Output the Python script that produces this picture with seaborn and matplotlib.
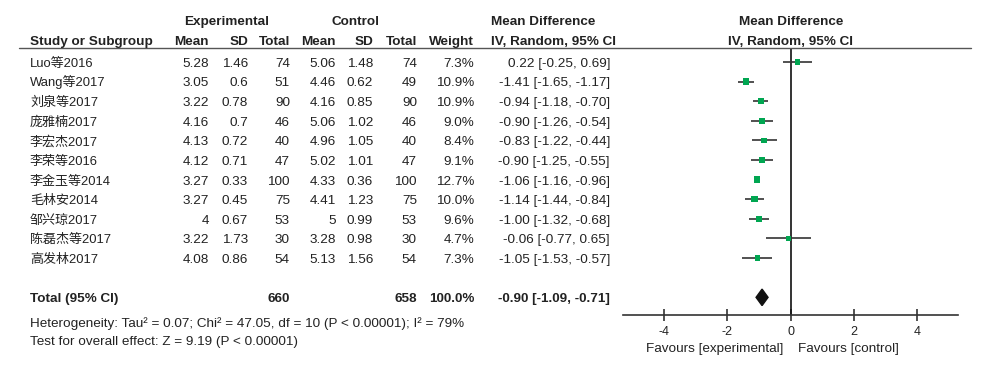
import matplotlib
matplotlib.use("Agg")
import matplotlib.pyplot as plt
import matplotlib.transforms as mtransforms
import numpy as np
import pandas as pd
import seaborn as sns

studies = ["Luo等2016", "Wang等2017", "刘泉等2017", "庞雅楠2017", "李宏杰2017", "李荣等2016",
           "李金玉等2014", "毛林安2014", "邹兴琼2017", "陈磊杰等2017", "高发林2017"]
exp_mean = [5.28, 3.05, 3.22, 4.16, 4.13, 4.12, 3.27, 3.27, 4, 3.22, 4.08]
exp_sd = [1.46, 0.6, 0.78, 0.7, 0.72, 0.71, 0.33, 0.45, 0.67, 1.73, 0.86]
exp_n = [74, 51, 90, 46, 40, 47, 100, 75, 53, 30, 54]
ctl_mean = [5.06, 4.46, 4.16, 5.06, 4.96, 5.02, 4.33, 4.41, 5, 3.28, 5.13]
ctl_sd = [1.48, 0.62, 0.85, 1.02, 1.05, 1.01, 0.36, 1.23, 0.99, 0.98, 1.56]
ctl_n = [74, 49, 90, 46, 40, 47, 100, 75, 53, 30, 54]
weight = [7.3, 10.9, 10.9, 9.0, 8.4, 9.1, 12.7, 10.0, 9.6, 4.7, 7.3]
md = [0.22, -1.41, -0.94, -0.90, -0.83, -0.90, -1.06, -1.14, -1.00, -0.06, -1.05]
ci_lo = [-0.25, -1.65, -1.18, -1.26, -1.22, -1.25, -1.16, -1.44, -1.32, -0.77, -1.53]
ci_hi = [0.69, -1.17, -0.70, -0.54, -0.44, -0.55, -0.96, -0.84, -0.68, 0.65, -0.57]

total_exp = 660
total_ctl = 658
total_weight = 100.0
total_md = -0.90
total_lo = -1.09
total_hi = -0.71
x_ticks = [-4, -2, 0, 2, 4]

heterogeneity = "Heterogeneity: Tau² = 0.07; Chi² = 47.05, df = 10 (P < 0.00001); I² = 79%"
overall = "Test for overall effect: Z = 9.19 (P < 0.00001)"

sns.set_theme(style="white")
plt.rcParams["font.family"] = ["Liberation Sans", "Noto Sans CJK SC", "DejaVu Sans"]
plt.rcParams["axes.unicode_minus"] = False

TEXT = "#222222"
GREEN = "#00a651"
BODY = 9.7
HEAD = 9.7

df = pd.DataFrame({"row": np.arange(len(studies)), "md": md, "weight": weight})
total_row = len(studies) + 1

fig = plt.figure(figsize=(10, 3.66), dpi=100)
ax = fig.add_axes([0.623, 1 - 315 / 366, 0.335, 267 / 366])

# confidence intervals and study markers
ax.hlines(df["row"], ci_lo, ci_hi, color="#333333", lw=1.2, zorder=2)
k = 2.0
sns.scatterplot(data=df, x="md", y="row", size="weight", sizes=(min(weight) * k, max(weight) * k),
                size_norm=(min(weight), max(weight)), marker="s", color=GREEN, edgecolor="none",
                legend=False, ax=ax, zorder=3)

# pooled diamond
h = 0.42
ax.fill([total_lo, total_md, total_hi, total_md], [total_row, total_row - h, total_row, total_row + h],
        color="#111111", zorder=3)

ax.axvline(0, color="#111111", lw=1.2, zorder=1)
ax.set_xlim(-5.3, 5.3)
ax.set_ylim(12.9, -0.71)
ax.set_xticks(x_ticks)
ax.set_yticks([])
ax.set_xlabel("")
ax.set_ylabel("")
for side in ["left", "top", "right"]:
    ax.spines[side].set_visible(False)
ax.spines["bottom"].set_color("#333333")
ax.spines["bottom"].set_linewidth(1.2)
ax.tick_params(axis="x", direction="inout", length=8, width=1.2, color="#333333",
               labelsize=9, labelcolor=TEXT, pad=4, bottom=True)

# text positioned with x in figure fraction and y in row units (baseline below row centre)
tr = mtransforms.blended_transform_factory(fig.transFigure, ax.transData)
BASE = 0.25


def put(x, y, s, ha="left", bold=False, size=BODY):
    fig.text(x, y + BASE, s, transform=tr, ha=ha, va="baseline", fontsize=size, color=TEXT,
             fontweight="bold" if bold else "normal")


# header line
ax.plot([0.019, 0.971], [-0.71, -0.71], transform=tr, color="#555555", lw=1, clip_on=False)

r1, r2 = -2.14, -1.12
put(0.227, r1, "Experimental", ha="center", bold=True, size=HEAD)
put(0.355, r1, "Control", ha="center", bold=True, size=HEAD)
put(0.491, r1, "Mean Difference", bold=True, size=HEAD)
put(0.791, r1, "Mean Difference", ha="center", bold=True, size=HEAD)
put(0.030, r2, "Study or Subgroup", bold=True, size=HEAD)
put(0.209, r2, "Mean", ha="right", bold=True, size=HEAD)
put(0.248, r2, "SD", ha="right", bold=True, size=HEAD)
put(0.290, r2, "Total", ha="right", bold=True, size=HEAD)
put(0.336, r2, "Mean", ha="right", bold=True, size=HEAD)
put(0.373, r2, "SD", ha="right", bold=True, size=HEAD)
put(0.417, r2, "Total", ha="right", bold=True, size=HEAD)
put(0.474, r2, "Weight", ha="right", bold=True, size=HEAD)
put(0.491, r2, "IV, Random, 95% CI", bold=True, size=HEAD)
put(0.791, r2, "IV, Random, 95% CI", ha="center", bold=True, size=HEAD)

for i, name in enumerate(studies):
    put(0.030, i, name, size=9.4)
    put(0.209, i, f"{exp_mean[i]:g}", ha="right")
    put(0.248, i, f"{exp_sd[i]:g}", ha="right")
    put(0.290, i, f"{exp_n[i]}", ha="right")
    put(0.336, i, f"{ctl_mean[i]:g}", ha="right")
    put(0.373, i, f"{ctl_sd[i]:g}", ha="right")
    put(0.417, i, f"{ctl_n[i]}", ha="right")
    put(0.474, i, f"{weight[i]:.1f}%", ha="right")
    put(0.610, i, f"{md[i]:.2f} [{ci_lo[i]:.2f}, {ci_hi[i]:.2f}]", ha="right")

put(0.030, total_row, "Total (95% CI)", bold=True)
put(0.290, total_row, f"{total_exp}", ha="right", bold=True)
put(0.417, total_row, f"{total_ctl}", ha="right", bold=True)
put(0.474, total_row, f"{total_weight:.1f}%", ha="right", bold=True)
put(0.610, total_row, f"{total_md:.2f} [{total_lo:.2f}, {total_hi:.2f}]", ha="right", bold=True)

put(0.030, 13.27, heterogeneity)
put(0.030, 14.18, overall)
put(0.783, 14.54, "Favours [experimental]", ha="right")
put(0.798, 14.54, "Favours [control]")

fig.savefig("out.png", dpi=100)
